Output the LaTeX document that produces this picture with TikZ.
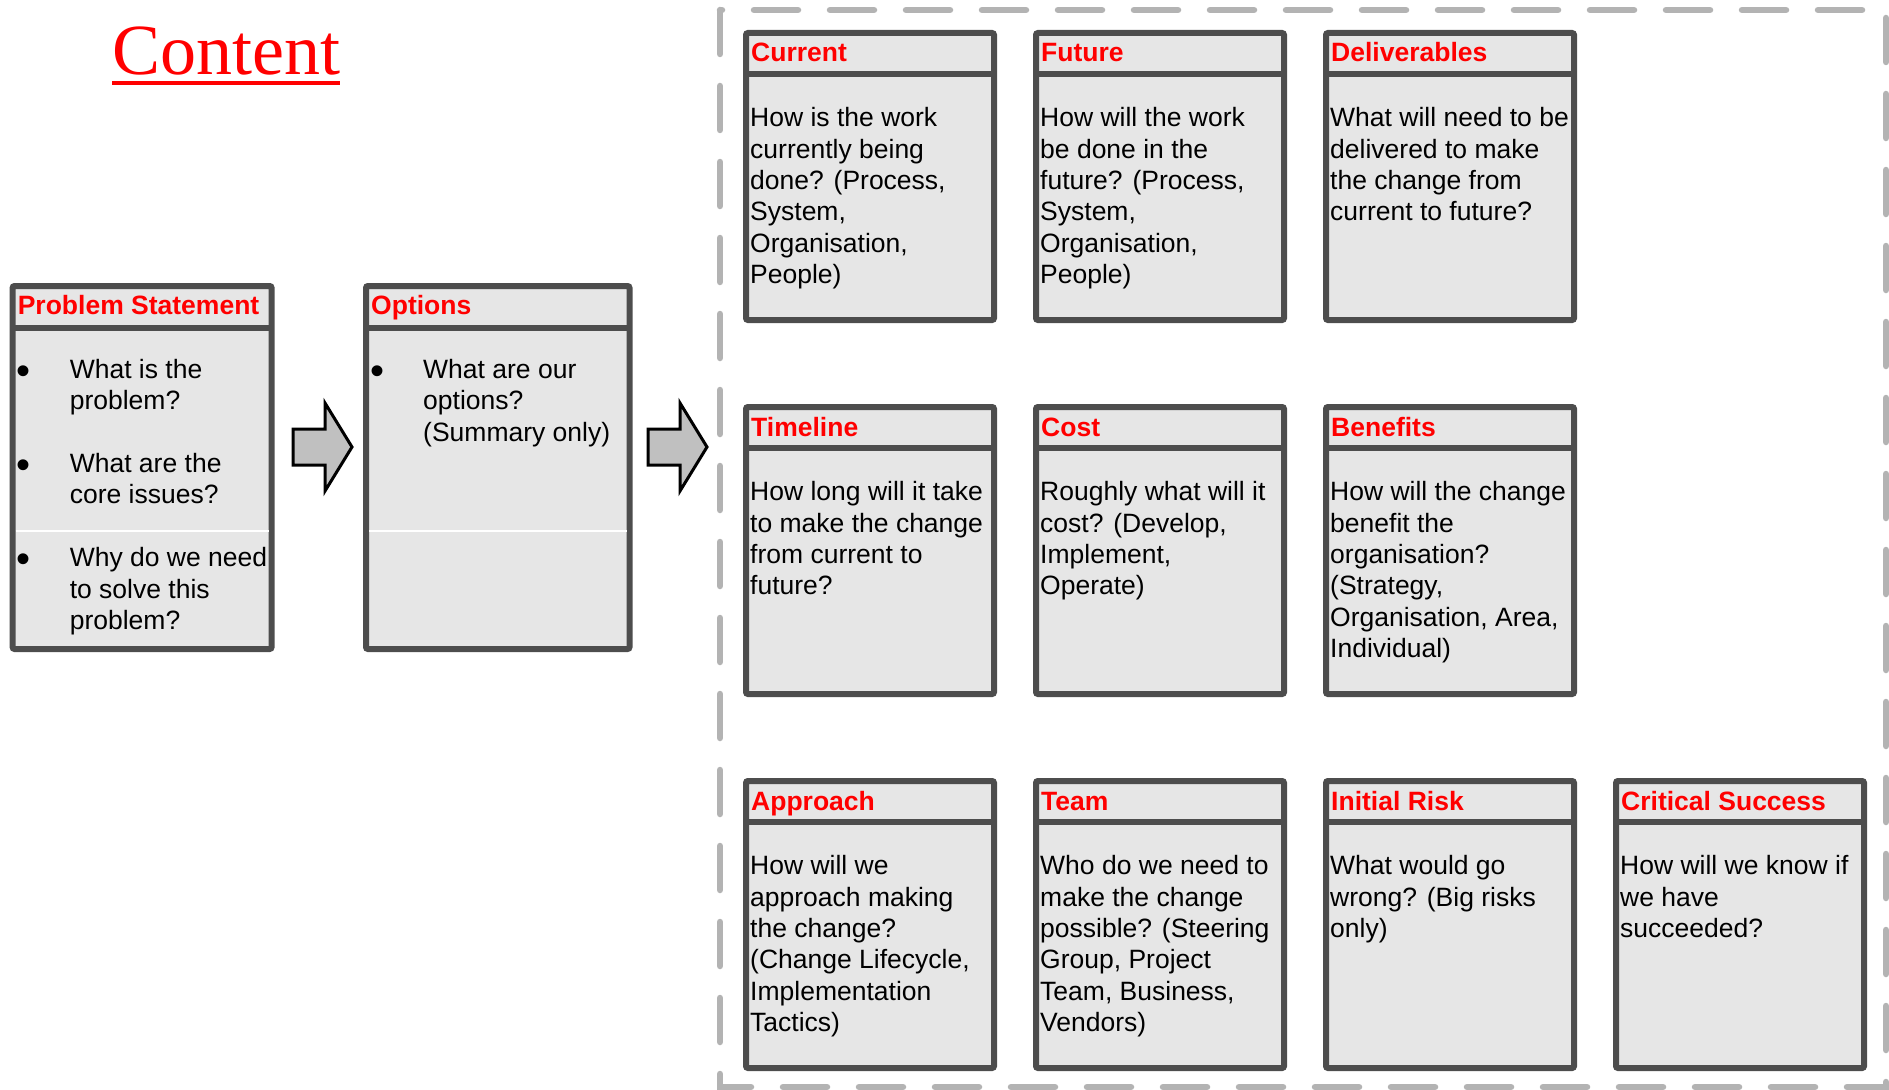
\documentclass[tikz,border=0pt]{standalone}
\usepackage{fontspec}
\setmainfont{Liberation Sans}
\newfontfamily\titleserif{Liberation Serif}
\usetikzlibrary{calc}

\definecolor{cardFill}{HTML}{E6E6E6}
\definecolor{cardEdge}{HTML}{4D4D4D}
\definecolor{frameGray}{HTML}{B3B3B3}
\definecolor{arrowFill}{HTML}{C0C0C0}
\definecolor{headRed}{HTML}{FF0000}

\newcommand\bul{\makebox[53pt][l]{\raisebox{-6pt}{\fontsize{40}{40}\selectfont\textbullet}}}
\newcommand\ind{\hspace*{53pt}}
\newcommand\firstline{\rule{0pt}{21pt}}

\begin{document}
\begin{tikzpicture}
[x=1pt,y=-1pt,
  cardBox/.style={shape=rectangle,draw=cardEdge,fill=cardFill,line width=6pt,
    rounded corners=2pt,anchor=north west,inner sep=0pt,outer sep=0pt,
    minimum width=248pt,minimum height=287pt},
  headLine/.style={draw=cardEdge,line width=6pt},
  headText/.style={anchor=base west,inner sep=0pt,text=headRed,
    font=\fontsize{26.5}{31.4}\selectfont\bfseries},
  bodyText/.style={anchor=north west,inner sep=0pt,align=left,
    font=\fontsize{26.5}{31.4}\selectfont},
  splitLine/.style={draw=white,line width=1.5pt},
  arrowShape/.style={draw=black,fill=arrowFill,line width=3pt,line join=miter},
  frameLine/.style={draw=frameGray,line width=6.5pt,line cap=round,
    dash pattern=on 44pt off 32pt},
  titleText/.style={anchor=base west,inner sep=0pt,text=headRed,
    font=\titleserif\fontsize{72}{80}\selectfont}]
\useasboundingbox (0,0) rectangle (1889,1089);
%% title
\node[titleText] (title) at (112,75) {Content};
\draw[headRed,line width=4pt] ($(title.south west)+(0,7)$) -- ($(title.south east)+(0,7)$);
%% dashed frame round the cards
\draw[frameLine] (720,10) rectangle (1886,1087);
%% problem statement and options
\node[cardBox,minimum width=259pt,minimum height=363pt] (prob) at (12.6,286) {};
\node[cardBox,minimum width=263.5pt,minimum height=363pt] (opt) at (366,286) {};
\foreach \nm in {prob,opt}
{
  \draw[headLine] ($(\nm.north west)+(0,42)$) -- ($(\nm.north east)+(0,42)$);
  \draw[splitLine] ($(\nm.north west)+(3,245)$) -- ($(\nm.north east)+(-3,245)$);
}
\node[headText] (prob-hd) at ($(prob.north west)+(5,28)$) {Problem Statement};
\node[bodyText] (prob-bd) at ($(prob.north west)+(4,71)$)
  {\firstline\bul What is the\\\ind problem?\\[31.4pt]\bul What are the\\\ind core issues?\\[31.4pt]\bul Why do we need\\\ind to solve this\\\ind problem?};
\node[headText] (opt-hd) at ($(opt.north west)+(5,28)$) {Options};
\node[bodyText] (opt-bd) at ($(opt.north west)+(4,71)$)
  {\firstline\bul What are our\\\ind options?\\\ind (Summary only)};
%% block arrows
\foreach \ax in {293,648}
{
  \draw[arrowShape] (\ax,447) ++(0,-18) -- ++(32,0) -- ++(0,-26) -- ++(27,44)
    -- ++(-27,44) -- ++(0,-26) -- ++(-32,0) -- cycle;
}
%% cards
\foreach \nm/\cx/\cy/\hd/\bd in {
  cur/746/33/Current/{How is the work\\currently being\\done? (Process,\\System,\\Organisation,\\People)},
  fut/1036/33/Future/{How will the work\\be done in the\\future? (Process,\\System,\\Organisation,\\People)},
  del/1326/33/Deliverables/{What will need to be\\delivered to make\\the change from\\current to future?},
  tim/746/407/Timeline/{How long will it take\\to make the change\\from current to\\future?},
  cost/1036/407/Cost/{Roughly what will it\\cost? (Develop,\\Implement,\\Operate)},
  ben/1326/407/Benefits/{How will the change\\benefit the\\organisation?\\(Strategy,\\Organisation, Area,\\Individual)},
  appr/746/781/Approach/{How will we\\approach making\\the change?\\(Change Lifecycle,\\Implementation\\Tactics)},
  team/1036/781/Team/{Who do we need to\\make the change\\possible? (Steering\\Group, Project\\Team, Business,\\Vendors)},
  risk/1326/781/Initial Risk/{What would go\\wrong? (Big risks\\only)},
  crit/1616/781/Critical Success/{How will we know if\\we have\\succeeded?}}
{
  \node[cardBox] (\nm) at (\cx,\cy) {};
  \draw[headLine] ($(\nm.north west)+(0,40.7)$) -- ($(\nm.north east)+(0,40.7)$);
  \node[headText] (\nm-hd) at ($(\nm.north west)+(5,29)$) {\hd};
  \node[bodyText] (\nm-bd) at ($(\nm.north west)+(4,72.5)$) {\firstline\bd};
}
\end{tikzpicture}
\end{document}
